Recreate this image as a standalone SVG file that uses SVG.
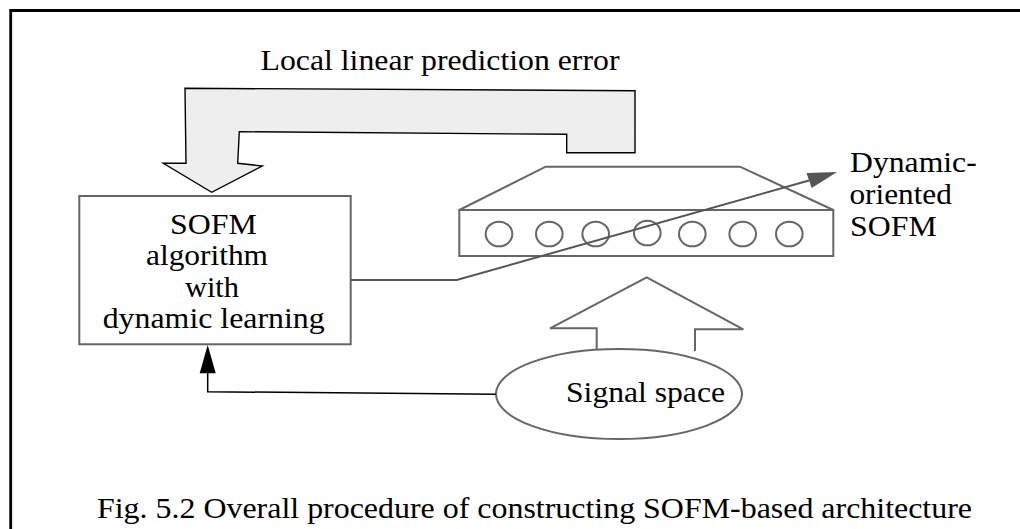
<svg xmlns="http://www.w3.org/2000/svg" width="1020" height="529" viewBox="0 0 1020 529">
<style>
text{font-size:30px;fill:#000}
.shape{fill:none;stroke:#666;stroke-width:2}
.big{fill:#eee;stroke:#000;stroke-width:1.4;stroke-linejoin:miter}
</style>
<rect width="1020" height="529" fill="#fff"/>
<path d="M10.7,529 V10.5 H1020" fill="none" stroke="#000" stroke-width="2.8"/>
<g font-family="Liberation Serif, Times New Roman, serif">
<g id="title"><text x="260.5" y="70" textLength="359" lengthAdjust="spacingAndGlyphs">Local linear prediction error</text></g>
<g id="feedback-arrow">
<polygon class="big" points="185,88.3 635,90.7 635,152.7 566.7,152.7 566.7,134.3 239.3,131.7 237.7,163.3 262.3,166 211.7,192.3 163.3,163.3 186,163.3"/>
</g>
<g id="sofm-algorithm">
<rect class="shape" x="79.3" y="196" width="271.4" height="148.3"/>
<text x="170" y="234" textLength="86.7" lengthAdjust="spacingAndGlyphs">SOFM</text>
<text x="146" y="265" textLength="122" lengthAdjust="spacingAndGlyphs">algorithm</text>
<text x="185" y="296.5" textLength="54" lengthAdjust="spacingAndGlyphs">with</text>
<text x="102.7" y="327.5" textLength="222" lengthAdjust="spacingAndGlyphs">dynamic learning</text>
</g>
<g id="sofm-layer">
<path class="shape" d="M459.3,210 L545.7,166.7 H740 L833.3,210"/>
<rect class="shape" x="459.3" y="210" width="374" height="46"/>
<g class="shape">
<ellipse cx="499" cy="234" rx="13.3" ry="12.3"/>
<ellipse cx="549.3" cy="234" rx="13.3" ry="12.3"/>
<ellipse cx="595.7" cy="234" rx="13.3" ry="12.3"/>
<ellipse cx="647.3" cy="233" rx="13.3" ry="12.3"/>
<ellipse cx="692.3" cy="234" rx="13.3" ry="12.3"/>
<ellipse cx="742.7" cy="234" rx="13.3" ry="12.3"/>
<ellipse cx="789.3" cy="234" rx="13.3" ry="12.3"/>
</g>
</g>
<g id="dynamic-label">
<text x="850" y="172" textLength="126.7" lengthAdjust="spacingAndGlyphs">Dynamic-</text>
<text x="849.5" y="203.5" textLength="102.3" lengthAdjust="spacingAndGlyphs">oriented</text>
<text x="850" y="236" textLength="86.7" lengthAdjust="spacingAndGlyphs">SOFM</text>
</g>
<g id="input-arrow">
<path class="shape" d="M596.7,350 V328.3 H550 L646.7,277.3 L743.3,329.3 H695 V351"/>
</g>
<g id="signal-space">
<ellipse class="shape" cx="619" cy="394" rx="123" ry="45" fill="#fff"/>
<text x="566" y="401.5" textLength="159" lengthAdjust="spacingAndGlyphs">Signal space</text>
</g>
<g id="connectors">
<path d="M350.7,280 H456.7 L809,180.5" fill="none" stroke="#555" stroke-width="2"/>
<polygon points="837,172 806.5,173 811.7,188" fill="#555"/>
<path d="M496,394.3 L207.7,391.7 V372" fill="none" stroke="#000" stroke-width="1.5"/>
<polygon points="207.7,345 199.7,373.3 215.7,373.3" fill="#000"/>
</g>
<g id="caption"><text x="97" y="518" textLength="875" lengthAdjust="spacingAndGlyphs">Fig. 5.2 Overall procedure of constructing SOFM-based architecture</text></g>
</g>
</svg>
